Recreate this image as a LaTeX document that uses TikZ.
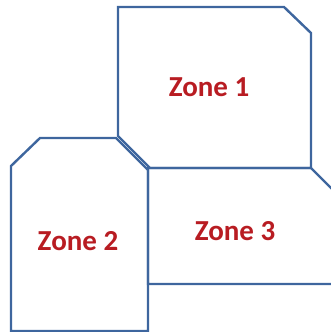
\documentclass[tikz,border=0pt]{standalone}
\usepackage{fontspec}
\setmainfont{Carlito}
\usepackage{tikz}
\definecolor{zoneblue}{RGB}{62, 102, 158}
\definecolor{zonered}{RGB}{184, 28, 34}
\tikzset{
    zone/.style={draw=zoneblue, line width=2.4pt, line join=miter},
    zonelabel/.style={text=zonered, font=\bfseries\fontsize{29}{34}\selectfont, inner sep=0pt}
}

\begin{document}
\begin{tikzpicture}[x=1pt, y=-1pt]
        \useasboundingbox (0,0) rectangle (331,332);
        \clip (0,0) rectangle (331,332);

        % Zones
        \draw [zone] (118,7) -- (284,7) -- (311,33) -- (311,168) -- (150,168) -- (118,136) -- cycle;
        \draw [zone] (11,166) -- (40,138) -- (116,138) -- (148,170) -- (148,331) -- (11,331) -- cycle;
        \draw [zone] (148,168) -- (311,168) -- (345,202) -- (345,284) -- (148,284) -- cycle;

        % Labels
        \node [zonelabel] (zone1) at (209,87) {Zone 1};
        \node [zonelabel] (zone2) at (78,241) {Zone 2};
        \node [zonelabel] (zone3) at (235,231) {Zone 3};

    \end{tikzpicture}
\end{document}
